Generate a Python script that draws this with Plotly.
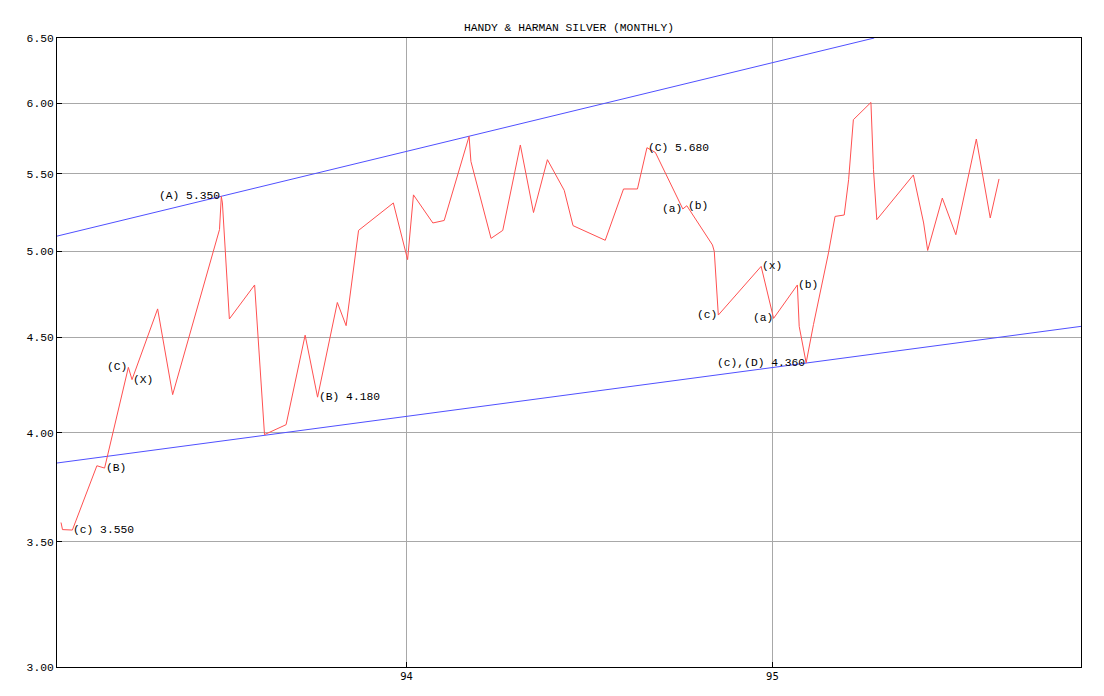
import math
import plotly.graph_objects as go

# ---- data (decimal years, price in $/oz) ----
years = [93.056, 93.060, 93.087, 93.154, 93.175, 93.240, 93.250, 93.320, 93.361, 93.489,
         93.494, 93.497, 93.516, 93.585, 93.612, 93.671, 93.723, 93.757, 93.811, 93.835,
         93.869, 93.964, 94.003, 94.019, 94.072, 94.103, 94.171, 94.176, 94.231, 94.263,
         94.311, 94.347, 94.385, 94.431, 94.455, 94.543, 94.593, 94.631, 94.657, 94.680,
         94.755, 94.766, 94.836, 94.841, 94.852, 94.969, 95.003, 95.068, 95.073, 95.092,
         95.112, 95.153, 95.171, 95.196, 95.208, 95.221, 95.269, 95.276, 95.285, 95.385,
         95.413, 95.424, 95.464, 95.501, 95.557, 95.575, 95.595, 95.619]
prices = [3.583, 3.552, 3.550, 3.842, 3.831, 4.336, 4.271, 4.659, 4.193, 5.136,
          5.350, 5.307, 4.602, 4.798, 3.992, 4.041, 4.511, 4.180, 4.696, 4.564,
          5.131, 5.307, 4.950, 5.360, 5.178, 5.194, 5.760, 5.585, 5.081, 5.131,
          5.699, 5.245, 5.597, 5.390, 5.161, 5.069, 5.399, 5.399, 5.680, 5.647,
          5.268, 5.289, 5.040, 5.000, 4.624, 4.909, 4.605, 4.798, 4.560, 4.360,
          4.570, 4.991, 5.220, 5.229, 5.461, 5.879, 6.005, 5.528, 5.199, 5.493,
          5.178, 5.006, 5.339, 5.104, 5.741, 5.494, 5.210, 5.466]

upper_x = [93.045, 95.278]
upper_y = [5.095, 6.500]
lower_x = [93.045, 95.843]
lower_y = [3.855, 4.560]

label_texts = ["(c) 3.550", "(B)", "(C)", "(X)", "(A) 5.350", "(B) 4.180",
               "(C) 5.680", "(a)", "(b)", "(c)", "(x)", "(a)", "(b)", "(c),(D) 4.360"]
label_idx = [2, 4, 5, 6, 10, 17, 38, 40, 41, 44, 45, 46, 47, 49]
label_side = ["right", "right", "left", "right", "left", "right",
              "right", "left", "right", "left", "right", "left", "right", "left"]

y_ticks = [3.00, 3.50, 4.00, 4.50, 5.00, 5.50, 6.00, 6.50]
x_ticks = [94, 95]
x_range = [93.045, 95.843]

MONO = "Liberation Mono, DejaVu Sans Mono, monospace"

fig = go.Figure()
fig.add_trace(go.Scatter(x=upper_x, y=upper_y, mode="lines",
                         line=dict(color="#5050ff", width=1), hoverinfo="skip"))
fig.add_trace(go.Scatter(x=lower_x, y=lower_y, mode="lines",
                         line=dict(color="#5050ff", width=1), hoverinfo="skip"))
fig.add_trace(go.Scatter(x=years, y=prices, mode="lines",
                         line=dict(color="#ff5050", width=1)))

for t, i, side in zip(label_texts, label_idx, label_side):
    fig.add_annotation(x=years[i], y=math.log10(prices[i]), text=t, showarrow=False,
                       xanchor="left" if side == "right" else "right", yanchor="middle",
                       borderpad=0,
                       font=dict(family=MONO, size=11.3, color="black"))

fig.update_layout(
    width=1104, height=696, autosize=False,
    margin=dict(l=57, r=23, t=38, b=29),
    paper_bgcolor="white", plot_bgcolor="white",
    showlegend=False,
    title=dict(text="HANDY & HARMAN SILVER (MONTHLY)", x=0.5, xref="paper", xanchor="center",
               y=1 - 27.3 / 696, yanchor="middle",
               font=dict(family=MONO, size=11.3, color="black")),
)
fig.update_xaxes(range=x_range, tickvals=x_ticks, ticktext=[str(v) for v in x_ticks],
                 showgrid=True, gridcolor="#a8a8a8", gridwidth=1,
                 showline=True, linecolor="black", linewidth=1, mirror=True,
                 ticks="inside", ticklen=5, tickcolor="black",
                 tickfont=dict(family="DejaVu Sans, Verdana, sans-serif", size=10, color="black"),
                 zeroline=False)
fig.update_yaxes(type="log", range=[math.log10(3.0), math.log10(6.5)],
                 tickvals=y_ticks, ticktext=[f"{v:.2f}" for v in y_ticks],
                 showgrid=True, gridcolor="#a8a8a8", gridwidth=1,
                 showline=True, linecolor="black", linewidth=1, mirror=True,
                 ticks="inside", ticklen=5, tickcolor="black",
                 tickfont=dict(family=MONO, size=11.3, color="black"),
                 zeroline=False)

fig.write_html("out.html",
               config={"displayModeBar": False},
               post_script="document.body.style.margin='0';document.body.style.overflow='hidden';")
